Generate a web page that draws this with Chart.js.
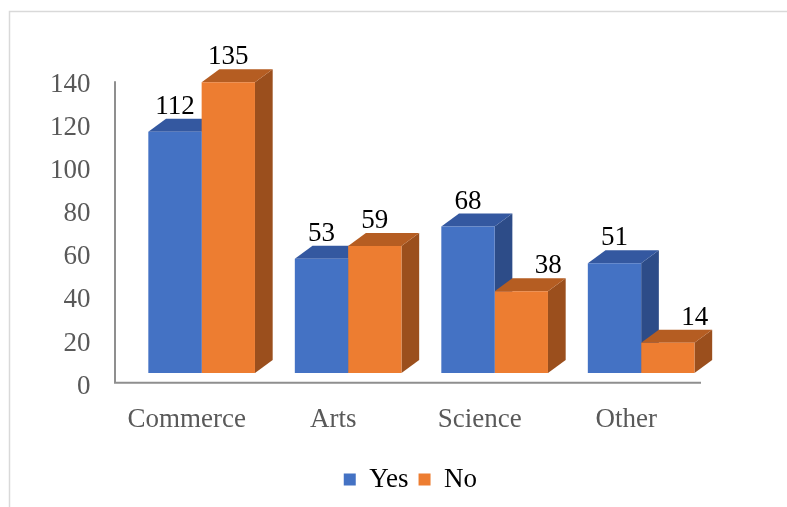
<!DOCTYPE html>
<html>
<head>
<meta charset="utf-8">
<script src="https://cdn.jsdelivr.net/npm/chart.js@4/dist/chart.umd.min.js"></script>
<style>
  html, body { margin: 0; padding: 0; background: #ffffff; }
  #wrap { width: 787px; height: 507px; }
</style>
</head>
<body>
<div id="wrap"><canvas id="c"></canvas></div>
<script>
// Survey answers per stream
const categories = ['Commerce', 'Arts', 'Science', 'Other'];
const yesValues = [112, 53, 68, 51];
const noValues = [135, 59, 38, 14];
const yTicks = [0, 20, 40, 60, 80, 100, 120, 140];

const FONT = "'Liberation Serif', 'Times New Roman', serif";
const AXIS_TEXT = '#595959';

// Column depth (projection of the 3D extrusion) and the offset of the
// front axis plane relative to the column front faces.
const DEPTH_X = 17.7, DEPTH_Y = 13;
const PLANE_X = -13.4, PLANE_Y = 9.8;
const LEGEND_SHIFT = 39;

const shades = [
  { front: '#4472C4', top: '#3458A0', side: '#2D4C88' },
  { front: '#ED7D31', top: '#B55D22', side: '#9B4F1D' }
];

// Outer frame and the front-plane axis lines
const framePlugin = {
  id: 'frame',
  afterLayout(chart) {
    if (chart.legend) {
      chart.legend.left += LEGEND_SHIFT;
      chart.legend.right += LEGEND_SHIFT;
    }
  },
  beforeDraw(chart) {
    const ctx = chart.ctx;
    ctx.save();
    ctx.strokeStyle = '#d9d9d9';
    ctx.lineWidth = 1.5;
    ctx.strokeRect(9.5, 11.5, 900, 600);
    ctx.restore();
  },
  beforeDatasetsDraw(chart) {
    const ctx = chart.ctx;
    const ys = chart.scales.y;
    const area = chart.chartArea;
    const x0 = area.left + PLANE_X;
    const x1 = area.right + PLANE_X;
    const yTop = ys.getPixelForValue(yTicks[yTicks.length - 1]) + PLANE_Y;
    const yBot = ys.getPixelForValue(0) + PLANE_Y;
    ctx.save();
    ctx.strokeStyle = '#8f8f8f';
    ctx.lineWidth = 2;
    ctx.beginPath();
    ctx.moveTo(x0, yTop);
    ctx.lineTo(x0, yBot);
    ctx.lineTo(x1, yBot);
    ctx.stroke();
    ctx.restore();
  }
};

// Top and side faces of each column, painted before the front faces
const depthPlugin = {
  id: 'depth',
  beforeDatasetsDraw(chart) {
    const ctx = chart.ctx;
    ctx.save();
    for (let i = 0; i < categories.length; i++) {
      chart.data.datasets.forEach((ds, d) => {
        const el = chart.getDatasetMeta(d).data[i];
        if (!el) return;
        const p = el.getProps(['x', 'y', 'base', 'width'], true);
        const l = p.x - p.width / 2, r = p.x + p.width / 2;
        ctx.fillStyle = shades[d].side;
        ctx.beginPath();
        ctx.moveTo(r, p.y);
        ctx.lineTo(r + DEPTH_X, p.y - DEPTH_Y);
        ctx.lineTo(r + DEPTH_X, p.base - DEPTH_Y);
        ctx.lineTo(r, p.base);
        ctx.closePath();
        ctx.fill();
        ctx.fillStyle = shades[d].top;
        ctx.beginPath();
        ctx.moveTo(l, p.y);
        ctx.lineTo(r, p.y);
        ctx.lineTo(r + DEPTH_X, p.y - DEPTH_Y);
        ctx.lineTo(l + DEPTH_X, p.y - DEPTH_Y);
        ctx.closePath();
        ctx.fill();
      });
    }
    ctx.restore();
  }
};

// Value labels above each column; a label is nudged right when the
// neighbouring column on its left is taller.
const valueLabels = {
  id: 'valueLabels',
  afterDatasetsDraw(chart) {
    const ctx = chart.ctx;
    ctx.save();
    ctx.font = '27px ' + FONT;
    ctx.fillStyle = '#000000';
    ctx.textAlign = 'center';
    ctx.textBaseline = 'middle';
    chart.data.datasets.forEach((ds, d) => {
      chart.getDatasetMeta(d).data.forEach((el, i) => {
        const v = ds.data[i];
        let x = el.x;
        if (d > 0 && chart.data.datasets[d - 1].data[i] > v) x += 27;
        ctx.fillText(String(v), x, el.y - DEPTH_Y - 12);
      });
    });
    ctx.restore();
  }
};

Chart.defaults.font.family = FONT;

new Chart(document.getElementById('c'), {
  type: 'bar',
  data: {
    labels: categories,
    datasets: [
      { label: 'Yes', data: yesValues, backgroundColor: shades[0].front },
      { label: 'No', data: noValues, backgroundColor: shades[1].front }
    ]
  },
  options: {
    responsive: true,
    maintainAspectRatio: false,
    animation: false,
    devicePixelRatio: 1,
    categoryPercentage: 0.728,
    barPercentage: 1,
    layout: { padding: { left: 28.4, right: 72.6, top: 71.5, bottom: 4 } },
    scales: {
      x: {
        grid: { display: false, drawTicks: false },
        border: { display: false },
        ticks: {
          color: AXIS_TEXT,
          font: { size: 27 },
          labelOffset: -15,
          padding: 31,
          maxRotation: 0,
          autoSkip: false
        },
        afterFit(s) { s.height = 83; }
      },
      y: {
        min: 0,
        max: 140,
        grid: { display: false, drawTicks: false },
        border: { display: false },
        ticks: {
          color: AXIS_TEXT,
          font: { size: 27 },
          padding: 38,
          labelOffset: 13.5
        },
        afterBuildTicks(s) { s.ticks = yTicks.map(v => ({ value: v })); },
        afterFit(s) { s.width = 100; }
      }
    },
    plugins: {
      legend: {
        position: 'bottom',
        labels: {
          color: '#000000',
          font: { size: 27 },
          boxWidth: 12,
          boxHeight: 12,
          padding: 10
        }
      },
      tooltip: { enabled: false }
    }
  },
  plugins: [framePlugin, depthPlugin, valueLabels]
});
</script>
</body>
</html>
